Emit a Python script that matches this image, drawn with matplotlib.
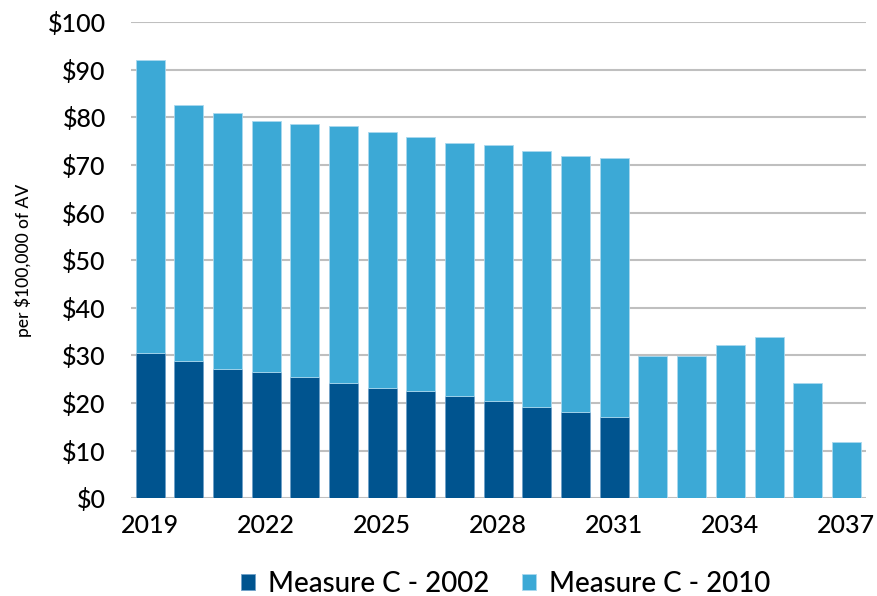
import numpy as np
from matplotlib import pyplot as plt

years = list(range(2019, 2038))
measure_c_2002 = [30.5, 28.8, 27.1, 26.5, 25.4, 24.3, 23.1, 22.6, 21.4, 20.4, 19.2, 18.1, 17.0,
                  0, 0, 0, 0, 0, 0]
measure_c_2010 = [61.6, 53.8, 53.8, 52.7, 53.2, 53.8, 53.9, 53.2, 53.3, 53.8, 53.8, 53.8, 54.4,
                  29.9, 29.9, 32.2, 33.8, 24.3, 11.9]
yticks = list(range(0, 101, 10))

dark = '#00548F'
light = '#3CA9D6'

plt.rcParams['font.family'] = ['Lato', 'DejaVu Sans']

fig = plt.figure(figsize=(8.78, 5.96), dpi=100)
ax = fig.add_axes([0.149, 0.164, 0.837, 0.799])

x = np.arange(len(years))
ax.bar(x, measure_c_2002, width=0.75, color=dark, edgecolor='#6FA0C8', linewidth=0.6,
       label='Measure C - 2002', zorder=3)
ax.bar(x, measure_c_2010, width=0.75, bottom=measure_c_2002, color=light, edgecolor='#A9D8EE',
       linewidth=0.6, label='Measure C - 2010', zorder=3)

ax.set_ylim(0, 100)
ax.set_xlim(-0.5, len(years) - 0.5)
ax.set_yticks(yticks)
ax.set_yticklabels(['${}'.format(v) for v in yticks], fontsize=18, fontweight='medium')
ax.set_xticks(x[::3])
ax.set_xticklabels([str(y) for y in years[::3]], fontsize=18, fontweight='medium')
ax.tick_params(axis='both', length=0)
ax.tick_params(axis='x', pad=11)
ax.tick_params(axis='y', pad=18)

ax.grid(axis='y', color='#BFBFBF', linewidth=1.5, zorder=0)
for side in ['top', 'right', 'left', 'bottom']:
    ax.spines[side].set_visible(False)

ax.set_ylabel('per $100,000 of AV', fontsize=12.5, fontweight='medium')
ax.yaxis.set_label_coords(-0.135, 0.5)

ax.legend(loc='upper center', bbox_to_anchor=(0.51, -0.1), ncol=2, frameon=False,
          prop={'size': 20, 'weight': 'medium'}, handlelength=0.5, handleheight=0.5,
          handletextpad=0.45, columnspacing=1.2)

fig.savefig('out.png', dpi=100)
